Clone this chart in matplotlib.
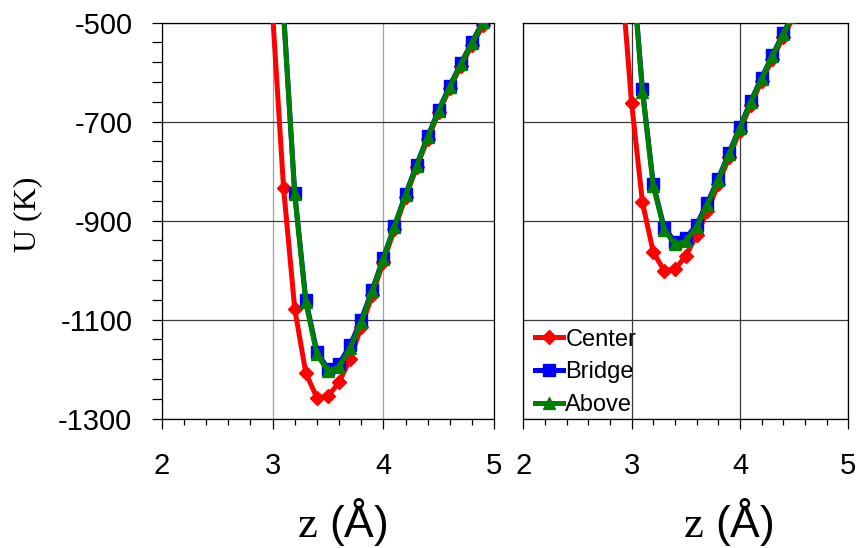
import numpy as np
import matplotlib
matplotlib.use('Agg')
import matplotlib.pyplot as plt
from matplotlib.ticker import MultipleLocator


# values (U in K, z in Angstrom)
z_left_center = [3.0, 3.1, 3.2, 3.3, 3.4, 3.5, 3.6, 3.7, 3.8, 3.9, 4.0,
                 4.1, 4.2, 4.3, 4.4, 4.5, 4.6, 4.7, 4.8, 4.9, 5.0]
u_left_center = [-480, -835, -1078, -1208, -1258, -1255, -1227, -1179, -1115, -1050, -983,
                 -917, -853, -792, -735, -681, -632, -587, -545, -505, -466]

z_left_site = [3.1, 3.2, 3.3, 3.4, 3.5, 3.6, 3.7, 3.8, 3.9, 4.0,
               4.1, 4.2, 4.3, 4.4, 4.5, 4.6, 4.7, 4.8, 4.9, 5.0]
u_left_bridge = [-480, -844, -1060, -1165, -1200, -1190, -1152, -1100, -1040, -975,
                 -911, -847, -787, -730, -676, -627, -582, -539, -497, -458]
u_left_above = [-485, -846, -1065, -1170, -1204, -1196, -1158, -1104, -1043, -977,
                -912, -849, -789, -731, -678, -629, -584, -541, -499, -460]

z_right_center = [2.9, 3.0, 3.1, 3.2, 3.3, 3.4, 3.5, 3.6, 3.7, 3.8,
                  3.9, 4.0, 4.1, 4.2, 4.3, 4.4, 4.5]
u_right_center = [-390, -663, -863, -964, -1001, -998, -972, -929, -880, -826,
                  -772, -718, -666, -618, -573, -528, -486]

z_right_site = [3.0, 3.1, 3.2, 3.3, 3.4, 3.5, 3.6, 3.7, 3.8,
                3.9, 4.0, 4.1, 4.2, 4.3, 4.4, 4.5]
u_right_bridge = [-365, -635, -826, -914, -943, -936, -908, -864, -815,
                  -763, -710, -659, -611, -566, -521, -479]
u_right_above = [-370, -640, -830, -918, -948, -942, -912, -868, -818,
                 -766, -713, -661, -613, -568, -523, -481]

labels = ['Center', 'Bridge', 'Above']
u_ticks = [-1300, -1100, -900, -700, -500]


plt.rcParams['font.family'] = ['Liberation Sans', 'DejaVu Sans']
plt.rcParams['axes.unicode_minus'] = False
plt.rcParams['mathtext.fontset'] = 'custom'
plt.rcParams['mathtext.rm'] = 'Liberation Serif'

fig = plt.figure(figsize=(8.59, 5.48), dpi=100)
ax1 = fig.add_axes([0.1882, 0.2363, 0.3872, 0.7223])
ax2 = fig.add_axes([0.6092, 0.2363, 0.3783, 0.7223])

panels = [
    (ax1, z_left_center, u_left_center, z_left_site, u_left_bridge, u_left_above),
    (ax2, z_right_center, u_right_center, z_right_site, u_right_bridge, u_right_above),
]

for ax, zc, uc, zs, ub, ua in panels:
    ax.plot(zc, uc, color='red', lw=3.6, marker='D', ms=7.5, label=labels[0], zorder=3)
    ax.plot(zs, ub, color='blue', lw=3.6, marker='s', ms=8.5, label=labels[1], zorder=4)
    ax.plot(zs, ua, color='green', lw=3.6, marker='^', ms=9, label=labels[2], zorder=5)

    ax.set_xlim(2, 5)
    ax.set_ylim(-1300, -500)
    ax.xaxis.set_major_locator(MultipleLocator(1))
    ax.xaxis.set_minor_locator(MultipleLocator(0.2))
    ax.set_yticks(u_ticks)
    ax.set_axisbelow(True)
    for s in ax.spines.values():
        s.set_color('black')
        s.set_linewidth(0.9)
    ax.tick_params(axis='x', which='major', direction='out', length=7, width=0.9,
                   pad=17, labelsize=21)
    ax.tick_params(axis='x', which='minor', direction='out', length=4.3, width=0.9)

# left panel: light vertical grid, dark horizontal grid, y ticks on the left
ax1.grid(axis='x', color='#a0a0a0', lw=0.9)
ax1.grid(axis='y', color='#3a3a3a', lw=0.9)
ax1.set_yticks(np.arange(-1300, -499, 40), minor=True)
ax1.tick_params(axis='y', which='both', direction='out', length=7, width=0.9,
                pad=14, labelsize=21)

# right panel: dark grid both ways, no y ticks
ax2.grid(axis='both', color='#3a3a3a', lw=0.9)
ax2.tick_params(axis='y', which='both', left=False, labelleft=False)

leg = ax2.legend(loc='upper left', bbox_to_anchor=(0.035, 0.227), frameon=False,
                 fontsize=17, handlelength=1.2, handletextpad=0.1,
                 labelspacing=0.45, borderpad=0, borderaxespad=0, numpoints=1)

fig.text(28 / 859, 1 - 214 / 548, 'U (K)', rotation=90, ha='center', va='center',
         family='Liberation Serif', fontsize=23)
fig.text(342 / 859, 1 - 537 / 548, r'$\mathrm{z}$ (Å)', ha='center', va='baseline',
         fontsize=32)
fig.text(728.5 / 859, 1 - 537 / 548, r'$\mathrm{z}$ (Å)', ha='center', va='baseline',
         fontsize=32)

fig.savefig('out.png', dpi=100)
